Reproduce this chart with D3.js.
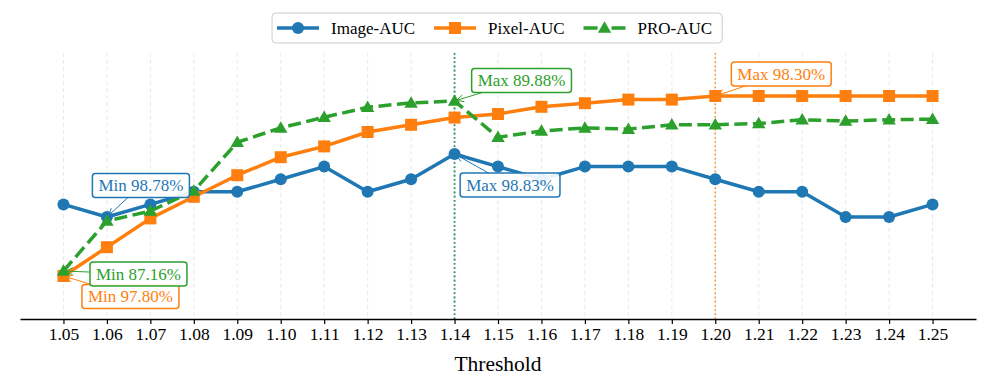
<!DOCTYPE html>
<html>
<head>
<meta charset="utf-8">
<script src="https://cdn.jsdelivr.net/npm/d3@7"></script>
<style>
body { margin: 0; background: #fff; }
text { font-family: "Liberation Serif", "Times New Roman", serif; }
</style>
</head>
<body>
<div id="chart"></div>
<script>
// data
var thresholds = [1.05, 1.06, 1.07, 1.08, 1.09, 1.10, 1.11, 1.12, 1.13, 1.14, 1.15,
                  1.16, 1.17, 1.18, 1.19, 1.20, 1.21, 1.22, 1.23, 1.24, 1.25];
var imageAUC = [98.79, 98.78, 98.79, 98.80, 98.80, 98.81, 98.82, 98.80, 98.81, 98.83, 98.82,
                98.81, 98.82, 98.82, 98.82, 98.81, 98.80, 98.80, 98.78, 98.78, 98.79];
var pixelAUC = [97.80, 97.88, 97.96, 98.02, 98.08, 98.13, 98.16, 98.20, 98.22, 98.24, 98.25,
                98.27, 98.28, 98.29, 98.29, 98.30, 98.30, 98.30, 98.30, 98.30, 98.30];
var proAUC = [87.16, 87.96, 88.12, 88.44, 89.22, 89.45, 89.62, 89.78, 89.85, 89.88, 89.30,
              89.40, 89.45, 89.43, 89.50, 89.50, 89.52, 89.58, 89.56, 89.58, 89.59];
var seriesNames = ["Image-AUC", "Pixel-AUC", "PRO-AUC"];

var width = 996, height = 387;
var plotTop = 53, plotBottom = 319;
var serif = "'Liberation Serif', 'Times New Roman', serif";

var svg = d3.select("#chart").append("svg")
  .attr("width", width)
  .attr("height", height)
  .style("font-family", serif);

var xScale = d3.scaleLinear().domain([1.04, 1.26]).range([20, 976]);

// each series has its own (hidden) y axis
var series = [
  {name: seriesNames[0], values: imageAUC, color: "#1f77b4", marker: "circle", dash: null,
   y: d3.scaleLinear().domain([98.78, 98.83]).range([217, 154]),
   ann: {min: [34, -31.5], max: [55.5, 31]}},
  {name: seriesNames[1], values: pixelAUC, color: "#ff7f0e", marker: "square", dash: null,
   y: d3.scaleLinear().domain([97.80, 98.30]).range([276, 96]),
   ann: {min: [67, 20.5], max: [66, -22]}},
  {name: seriesNames[2], values: proAUC, color: "#2ca02c", marker: "triangle", dash: "13,5.5",
   y: d3.scaleLinear().domain([87.16, 89.88]).range([271, 101]),
   ann: {min: [75, 3], max: [67, -20.5]}}
];

// grid
svg.append("g").selectAll("line")
  .data(thresholds)
  .enter().append("line")
  .attr("x1", function(d){ return xScale(d); })
  .attr("x2", function(d){ return xScale(d); })
  .attr("y1", plotTop).attr("y2", plotBottom)
  .attr("stroke", "#b0b0b0").attr("stroke-opacity", 0.35)
  .attr("stroke-width", 0.8).attr("stroke-dasharray", "4,3");

// dotted lines at the best threshold
series.forEach(function(s){
  var i = d3.maxIndex(s.values);
  svg.append("line")
    .attr("x1", xScale(thresholds[i])).attr("x2", xScale(thresholds[i]))
    .attr("y1", plotTop).attr("y2", plotBottom)
    .attr("stroke", s.color).attr("stroke-width", 1.6)
    .attr("stroke-dasharray", "1.6,2.6").attr("stroke-opacity", 0.85);
});

function drawMarker(g, type, color, cx, cy) {
  if (type == "circle") {
    g.append("circle").attr("cx", cx).attr("cy", cy).attr("r", 6).attr("fill", color);
  } else if (type == "square") {
    g.append("rect").attr("x", cx - 6).attr("y", cy - 6).attr("width", 12).attr("height", 12).attr("fill", color);
  } else {
    g.append("path").attr("d", d3.symbol().type(d3.symbolTriangle).size(78)())
      .attr("transform", "translate(" + cx + "," + (cy + 1) + ")").attr("fill", color);
  }
}

// lines and markers
series.forEach(function(s){
  var line = d3.line()
    .x(function(d, i){ return xScale(thresholds[i]); })
    .y(function(d){ return s.y(d); });
  var g = svg.append("g");
  g.append("path").datum(s.values)
    .attr("d", line)
    .attr("fill", "none")
    .attr("stroke", s.color)
    .attr("stroke-width", 3.5)
    .attr("stroke-linejoin", "round")
    .attr("stroke-dasharray", s.dash);
  s.values.forEach(function(v, i){
    drawMarker(g, s.marker, s.color, xScale(thresholds[i]), s.y(v));
  });
});

// x axis
var xAxis = d3.axisBottom(xScale)
  .tickValues(thresholds)
  .tickFormat(d3.format(".2f"))
  .tickSize(5).tickSizeOuter(0);
var xAxisGroup = svg.append("g")
  .attr("transform", "translate(0," + plotBottom + ")")
  .call(xAxis)
  .attr("font-family", serif);
xAxisGroup.select(".domain").attr("stroke", "#000").attr("stroke-width", 1.3);
xAxisGroup.selectAll(".tick line").attr("stroke", "#000").attr("stroke-width", 1.2);
xAxisGroup.selectAll(".tick text")
  .attr("font-size", 17.5).attr("fill", "#000").attr("y", 9);

svg.append("text")
  .attr("x", 498).attr("y", 371)
  .attr("text-anchor", "middle")
  .attr("font-size", 21.5)
  .text("Threshold");

// annotations
var annG = svg.append("g");
series.forEach(function(s){
  ["min", "max"].forEach(function(kind){
    var i = kind == "min" ? d3.minIndex(s.values) : d3.maxIndex(s.values);
    var px = xScale(thresholds[i]), py = s.y(s.values[i]);
    var cx = px + s.ann[kind][0], cy = py + s.ann[kind][1];
    var g = annG.append("g");
    var t = g.append("text")
      .attr("x", cx).attr("y", cy)
      .attr("text-anchor", "middle").attr("dy", "0.35em")
      .attr("font-size", 17).attr("fill", s.color)
      .text((kind == "min" ? "Min " : "Max ") + s.values[i].toFixed(2) + "%");
    var bb = t.node().getBBox();
    var padX = 6;
    var bx0 = bb.x - padX, bx1 = bb.x + bb.width + padX;
    var by0 = cy - 12, by1 = cy + 12;
    // arrow from box edge to point
    var dx = px - cx, dy = py - cy;
    var tEdge = Math.min(
      dx != 0 ? Math.abs((dx > 0 ? bx1 - cx : bx0 - cx) / dx) : Infinity,
      dy != 0 ? Math.abs((dy > 0 ? by1 - cy : by0 - cy) / dy) : Infinity);
    var sx = cx + dx * tEdge, sy = cy + dy * tEdge;
    var len = Math.sqrt((px - sx) * (px - sx) + (py - sy) * (py - sy));
    var ux = (px - sx) / len, uy = (py - sy) / len;
    var ex = px - ux * 2, ey = py - uy * 2;
    var ang = Math.atan2(uy, ux), hl = 8, ha = 0.45;
    g.append("path")
      .attr("d", "M" + sx + "," + sy + "L" + ex + "," + ey +
        "M" + (ex - hl * Math.cos(ang - ha)) + "," + (ey - hl * Math.sin(ang - ha)) +
        "L" + ex + "," + ey +
        "L" + (ex - hl * Math.cos(ang + ha)) + "," + (ey - hl * Math.sin(ang + ha)))
      .attr("fill", "none").attr("stroke", s.color).attr("stroke-width", 1);
    g.insert("rect", "text")
      .attr("x", bx0).attr("y", by0)
      .attr("width", bx1 - bx0).attr("height", by1 - by0)
      .attr("rx", 3)
      .attr("fill", "#fff").attr("fill-opacity", 0.9)
      .attr("stroke", s.color).attr("stroke-width", 1.5);
  });
});

// legend
var legend = svg.append("g");
var legendBox = legend.append("rect");
var lx = 277, ly = 28;
series.forEach(function(s, k){
  legend.append("line")
    .attr("x1", lx).attr("x2", lx + 42).attr("y1", ly).attr("y2", ly)
    .attr("stroke", s.color).attr("stroke-width", 3.5)
    .attr("stroke-dasharray", s.dash ? "14,14" : null);
  drawMarker(legend, s.marker, s.color, lx + 21, ly);
  var tx = legend.append("text")
    .attr("x", lx + 54).attr("y", ly).attr("dy", "0.35em")
    .attr("font-size", 17).text(s.name);
  lx = lx + 54 + tx.node().getComputedTextLength() + 19;
});
legendBox.attr("x", 272).attr("y", 13)
  .attr("width", lx - 19 + 10 - 272).attr("height", 30)
  .attr("rx", 4).attr("fill", "#fff").attr("fill-opacity", 0.8)
  .attr("stroke", "#cccccc").attr("stroke-width", 1);
</script>
</body>
</html>
